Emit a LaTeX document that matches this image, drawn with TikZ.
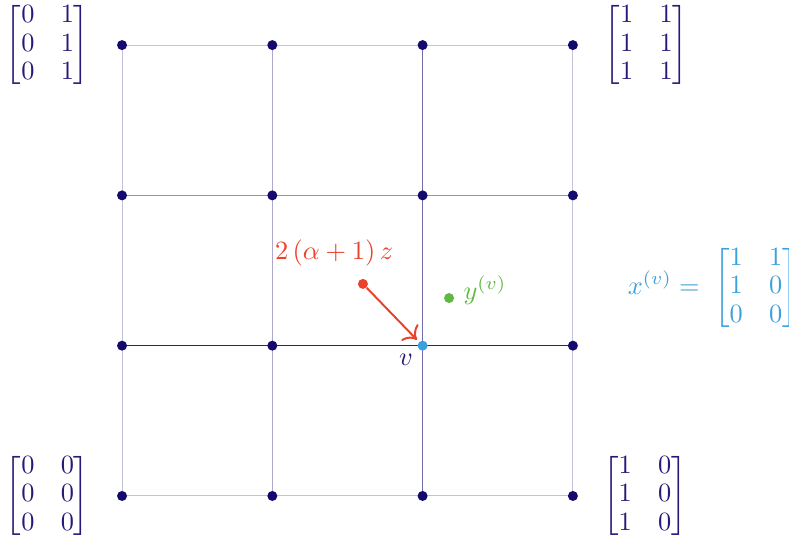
\documentclass[tikz,border=0pt]{standalone}
\usepackage{amsmath}
\usetikzlibrary{arrows.meta}
\definecolor{navydot}{RGB}{20,10,110}
\definecolor{matcol}{RGB}{40,25,120}
\definecolor{redc}{RGB}{235,65,45}
\definecolor{greenc}{RGB}{95,185,65}
\definecolor{bluec}{RGB}{60,160,220}
\renewcommand{\arraystretch}{0.9}
\begin{document}
\begin{tikzpicture}[x=2.005cm,y=2.005cm,
  dot/.style={circle,fill=#1,inner sep=0pt,minimum size=3.8pt},
  dot/.default=navydot,
  gridline/.style={draw=navydot,line width=0.35pt,opacity=#1},
  gridline/.default=0.3,
  mat/.style={text=matcol,inner sep=0pt}]
\useasboundingbox (-0.812,-0.319) rectangle (4.438,3.300);
% grid lines
\foreach \i in {0,3} {
  \draw[gridline=0.25] (\i,0) -- (\i,3);
  \draw[gridline=0.25] (0,\i) -- (3,\i);
}
\draw[gridline=0.35] (1,0) -- (1,3);
\draw[gridline=0.45] (0,2) -- (3,2);
\draw[gridline=0.6] (2,0) -- (2,3);
\draw[gridline=0.9] (0,1) -- (3,1);
% dots
\foreach \i in {0,...,3} {
  \foreach \j in {0,...,3} {
    \ifnum\i=2 \ifnum\j=1 \else \node[dot] (p\i\j) at (\i,\j) {}; \fi
    \else \node[dot] (p\i\j) at (\i,\j) {}; \fi
  }
}
\node[dot=bluec] (v) at (2,1) {};
\node[text=matcol] (vl) at (1.89,0.905) {$v$};
% red point and arrow
\node[dot=redc] (r) at (1.603,1.411) {};
\node[text=redc] (rl) at (1.411,1.617) {$2\,(\alpha+1)\,z$};
\draw[redc,line width=0.75pt,-{To[scale=1.3]},shorten >=1pt] (r) -- (v);
% green point
\node[dot=greenc] (g) at (2.176,1.317) {};
\node[text=greenc] (gl) at (2.415,1.371) {$y^{(v)}$};
% x^(v)
\node[text=bluec,inner sep=0pt,anchor=west] (xv) at (3.362,1.384)
  {$x^{(v)}=\;\begin{bmatrix}1&1\\1&0\\0&0\end{bmatrix}$};
% corner matrices
\node[mat] (m01) at (-0.495,2.998) {$\begin{bmatrix}0&1\\0&1\\0&1\end{bmatrix}$};
\node[mat] (m11) at (3.49,2.998) {$\begin{bmatrix}1&1\\1&1\\1&1\end{bmatrix}$};
\node[mat] (m00) at (-0.495,0.0) {$\begin{bmatrix}0&0\\0&0\\0&0\end{bmatrix}$};
\node[mat] (m10) at (3.48,0.0) {$\begin{bmatrix}1&0\\1&0\\1&0\end{bmatrix}$};
\end{tikzpicture}
\end{document}
